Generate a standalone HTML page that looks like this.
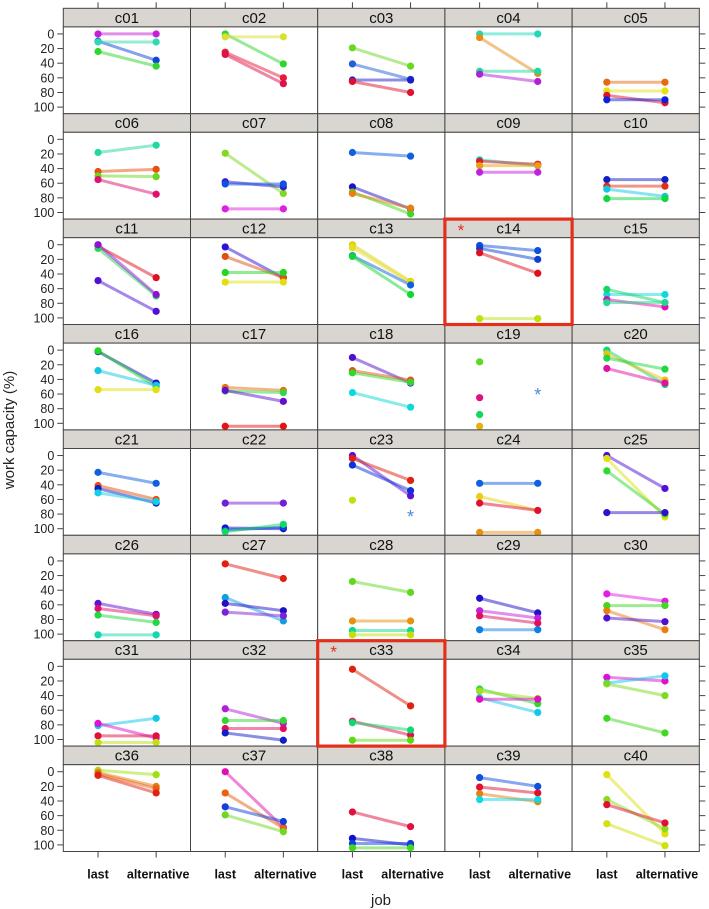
<!DOCTYPE html>
<html><head><meta charset="utf-8">
<style>
html,body{margin:0;padding:0;background:#fff;}
svg{display:block;font-family:"Liberation Sans",sans-serif;}
</style></head>
<body>
<svg id="chart" width="709" height="909" viewBox="0 0 709 909" xmlns="http://www.w3.org/2000/svg">
<text x="0" y="0" transform="translate(14,430) rotate(-90)" text-anchor="middle" font-size="15" fill="#222">work capacity (%)</text>
<text x="381" y="905" text-anchor="middle" font-size="15" fill="#222">job</text>
</svg>
<script>
const panels=['c01','c02','c03','c04','c05','c06','c07','c08','c09','c10','c11','c12','c13','c14','c15','c16','c17','c18','c19','c20','c21','c22','c23','c24','c25','c26','c27','c28','c29','c30','c31','c32','c33','c34','c35','c36','c37','c38','c39','c40'];
const jobLevels=['last','alternative'];
const yTicks=[0,20,40,60,80,100];
const lastVals=[
[0,10,11,24],[0,4,25,28],[19,41,63,65],[0,5,51,55],[66,78,84,90],
[18,44,50,55],[19,58,61,95],[18,65,72,74],[28,30,36,45],[55,64,68,81],
[2,5,0,49],[3,16,38,51],[0,4,15,16],[1,5,11,101],[68,61,75,79],
[2,1,28,54],[51,56,55,104],[10,28,31,58],[16,65,88,104],[0,5,11,25],
[23,41,45,51],[65,99,102,104],[0,4,13,61],[38,56,65,105],[0,4,21,78],
[58,65,74,101],[4,50,58,70],[28,82,95,101],[51,68,75,94],[45,61,68,78],
[81,78,95,104],[58,74,85,91],[4,75,77,101],[31,34,43,45],[15,23,24,71],
[-2,1,3,5],[0,29,48,59],[55,91,98,104],[8,21,30,38],[4,38,45,71]];
const altVals=[
[0,36,11,44],[41,4,60,68],[44,62,63,80],[0,54,51,65],[66,78,94,90],
[8,41,51,75],[74,65,61,95],[23,95,102,94],[36,34,36,45],[55,64,78,81],
[45,70,68,91],[45,45,38,51],[50,52,55,68],[8,20,39,101],[68,79,85,79],
[45,50,48,54],[55,58,70,104],[45,41,44,78],[null,null,null,null],[47,41,26,45],
[38,60,65,63],[65,100,98,94],[55,34,48,null],[38,75,75,105],[45,84,80,78],
[73,75,84,101],[24,82,68,75],[43,82,95,101],[71,78,85,94],[55,61,94,83],
[71,98,95,104],[78,74,85,101],[54,94,87,101],[51,44,63,45],[20,13,40,91],
[4,20,23,29],[76,77,68,82],[75,100,98,104],[20,29,41,38],[85,78,70,101]];
const colors=[
['#c51fd8','#1046d8','#2fd8b0','#2ed62e'],['#2ed62e','#d8e030','#e81a3a','#e0104a'],['#6ad820','#2060d8','#1a20c8','#e01030'],['#20d8b8','#e88a10','#20d8a0','#b020d8'],['#e86a10','#e8e010','#e01030','#1020d8'],
['#20d8a0','#e85010','#6ad820','#e01070'],['#80d820','#3020c8','#1050e0','#e020e0'],['#1060e0','#2010c8','#40d820','#e88010'],['#10d8c8','#e02020','#e8a010','#c020e0'],['#1020c8','#e03010','#10c8e0','#10d840'],
['#e01020','#20d850','#9010d8','#5010d8'],['#3010d8','#e05010','#20d820','#e0e010'],['#e0d010','#e0e020','#1060e0','#10d830'],['#1050e0','#1040d0','#e01020','#c0e010'],['#10d8e0','#10d860','#e010b0','#20d890'],
[ '#1010c8','#20d820','#10c8e0','#e0e010'],['#e87010','#30d840','#6010d0','#e81010'],['#5010d0','#e85010','#30d830','#10d8d8'],['#60d820','#e01080','#10d860','#e8b010'],['#10d880','#e8c010','#20d840','#e010a0'],
['#1060e0','#e85010','#1020c8','#10d0e8'],['#7020d8','#1010c8','#1040e0','#10d860'],['#6010d8','#e02010','#1030d8','#c0e010'],['#1060e0','#e8d010','#e01030','#e89010'],['#5010d8','#e0e010','#30d830','#3010d0'],
['#6010d0','#e01070','#20d840','#10d8b0'],['#e02010','#10a0e0','#2010c8','#8020d8'],['#60d820','#e89010','#10d890','#c0e010'],['#2010c8','#c020e0','#e01060','#1080e0'],['#e020e0','#40d820','#e88010','#5010d0'],
['#10c8e8','#e010d0','#e01040','#c0e010'],['#b020d8','#30d830','#e01060','#1020c8'],['#e02010','#e01050','#10d870','#60d810'],['#30d830','#a0e020','#10c8e8','#e010c0'],['#e010d0','#10c8e8','#80d820','#40d820'],
['#a0e010','#e88010','#e86010','#e02010'],['#e010b0','#e86010','#1040d8','#70d820'],['#e01040','#1010c8','#1040e0','#40d820'],['#1050e0','#e01030','#e88010','#10d8e8'],['#e0e010','#90d820','#e01030','#d0e010']];
const extraStars=[{p:18,v:57},{p:22,v:80}];
const highlighted=[13,32];

const NS='http://www.w3.org/2000/svg';
const svg=document.getElementById('chart');
const X0=63.3,COLW=127.2,TOP=8.3,ROWH=105.4,STRIPH=18.6,PANH=ROWH-STRIPH;
const YMIN=-9.6,YMAX=109;
function mk(tag,attrs,parent){const e=document.createElementNS(NS,tag);for(const k in attrs)e.setAttribute(k,attrs[k]);(parent||svg).appendChild(e);return e;}
function colX(c){return X0+c*COLW;}
function xPos(c,j){return colX(c)+COLW*(j===0?0.273:0.73);}
function yPos(r,v){const pt=TOP+r*ROWH+STRIPH;return pt+(v-YMIN)/(YMAX-YMIN)*PANH;}

panels.forEach((name,i)=>{
  const r=Math.floor(i/5),c=i%5;
  const g=mk('g',{});
  
  
  const sx=colX(c),sy=TOP+r*ROWH;
  const strip=mk('rect',{x:sx,y:sy,width:COLW,height:STRIPH,fill:'#d9d6d2',stroke:'#444','stroke-width':1},g);
  
  
  const st=mk('text',{x:sx+COLW/2,y:sy+14.5,'text-anchor':'middle','font-size':15,fill:'#111'},g);
  st.textContent=name;
  
  
  const box=mk('rect',{x:sx,y:sy+STRIPH,width:COLW,height:PANH,fill:'#fff',stroke:'#444','stroke-width':1},g);
  
  
  const L=lastVals[i],A=altVals[i],C=colors[i];
  for(let s=0;s<L.length;s++){
    if(L[s]!=null&&A[s]!=null){
      const ln=mk('line',{x1:xPos(c,0),y1:yPos(r,L[s]),x2:xPos(c,1),y2:yPos(r,A[s]),stroke:C[s],'stroke-width':3,'stroke-opacity':0.5},g);
      
      
    }
  }
  for(let s=0;s<L.length;s++){
    if(L[s]!=null){const p=mk('circle',{cx:xPos(c,0),cy:yPos(r,L[s]),r:3.6,fill:C[s]},g);
      
      }
    if(A[s]!=null){const p=mk('circle',{cx:xPos(c,1),cy:yPos(r,A[s]),r:3.6,fill:C[s]},g);
      
      }
  }
  // left ticks & labels
  if(c===0){yTicks.forEach(t=>{
    mk('line',{x1:X0-6,x2:X0,y1:yPos(r,t),y2:yPos(r,t),stroke:'#444'},g);
    const tl=mk('text',{x:X0-9,y:yPos(r,t)+4.5,'text-anchor':'end','font-size':12.5,fill:'#222'},g);
    tl.textContent=t;
    
    
  });}
  if(c===4){yTicks.forEach(t=>{mk('line',{x1:X0+5*COLW,x2:X0+5*COLW+6,y1:yPos(r,t),y2:yPos(r,t),stroke:'#444'},g);});}
  if(r===0){[0,1].forEach(j=>mk('line',{x1:xPos(c,j),x2:xPos(c,j),y1:TOP-6,y2:TOP,stroke:'#444'},g));}
  if(r===7){const by=TOP+8*ROWH;[0,1].forEach(j=>{
    mk('line',{x1:xPos(c,j),x2:xPos(c,j),y1:by,y2:by+6,stroke:'#444'},g);
    const xl=mk('text',{x:xPos(c,j)+(j===1?2:0),y:by+27,'text-anchor':'middle','font-size':12.5,'font-weight':'bold',fill:'#111'},g);
    xl.textContent=jobLevels[j];
    
    
  });}
});
highlighted.forEach(i=>{
  const r=Math.floor(i/5),c=i%5;
  const hb=mk('rect',{x:colX(c),y:TOP+r*ROWH,width:COLW,height:ROWH,fill:'none',stroke:'#e3301c','stroke-width':3.2});
  
  
  const a=mk('text',{x:colX(c)+16,y:TOP+r*ROWH+17,'text-anchor':'middle','font-size':17,fill:'#e3301c'});
  a.textContent='*';
  
  
});
extraStars.forEach(s=>{
  const r=Math.floor(s.p/5),c=s.p%5;
  const t=mk('text',{x:xPos(c,1),y:yPos(r,s.v)+9,'text-anchor':'middle','font-size':18,fill:'#4a8ad8'});
  t.textContent='*';
  
  
});
</script>
</body></html>
